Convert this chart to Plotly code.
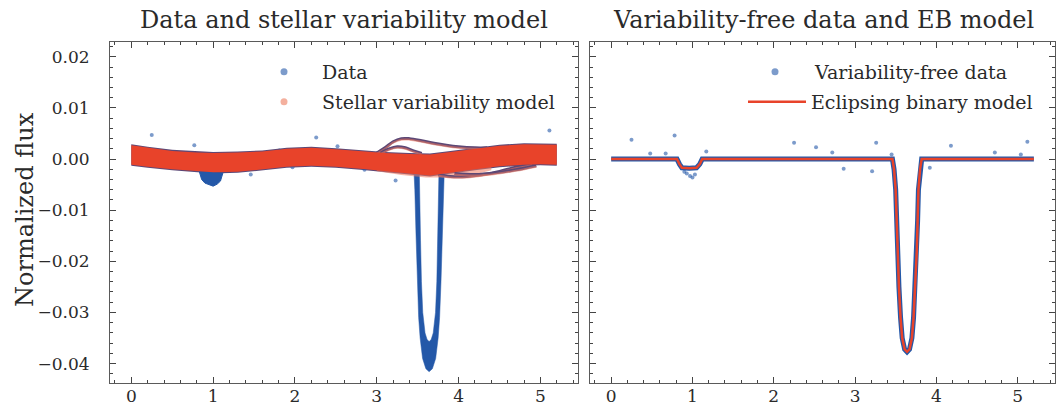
import plotly.graph_objects as go

# ---------------- phase-folded light curve (phase in days, normalized flux) ----------------
# Stellar variability model envelope (left panel)
var_phase = [0.00, 0.20, 0.50, 0.80, 1.00, 1.30, 1.60, 1.90, 2.20, 2.50, 2.80, 3.10,
             3.40, 3.65, 3.90, 4.20, 4.50, 4.80, 5.00, 5.20]
var_top = [0.0027, 0.0022, 0.0016, 0.0013, 0.0012, 0.0013, 0.0015, 0.0020, 0.0022, 0.0019,
           0.0015, 0.0012, 0.0010, 0.0009, 0.0014, 0.0020, 0.0026, 0.0029, 0.0029, 0.0028]
var_bot = [-0.0011, -0.0015, -0.0020, -0.0024, -0.0026, -0.0025, -0.0020, -0.0015, -0.0013,
           -0.0015, -0.0019, -0.0023, -0.0028, -0.0032, -0.0027, -0.0020, -0.0014, -0.0011,
           -0.0010, -0.0011]

# Sparser model realisations just below the main band
fringe_phase = [3.00, 3.30, 3.60, 3.90, 4.20, 4.40]
fringe_top = [-0.0020, -0.0025, -0.0030, -0.0025, -0.0018, -0.0015]
fringe_bot = [-0.0024, -0.0031, -0.0036, -0.0036, -0.0030, -0.0022]

# Out-of-eclipse data envelope (slightly wider than the model band)
data_top = [0.0029, 0.0024, 0.0018, 0.0015, 0.0014, 0.0015, 0.0017, 0.0022, 0.0024, 0.0021,
            0.0017, 0.0014, 0.0012, 0.0011, 0.0016, 0.0022, 0.0028, 0.0031, 0.0031, 0.0030]
data_bot = [-0.0013, -0.0017, -0.0022, -0.0026, -0.0028, -0.0027, -0.0022, -0.0017, -0.0015,
            -0.0017, -0.0021, -0.0025, -0.0030, -0.0034, -0.0029, -0.0022, -0.0016, -0.0013,
            -0.0012, -0.0013]

# Individual variability tracks that split off the main band
arc_hi_phase = [3.00, 3.10, 3.20, 3.30, 3.40, 3.55, 3.70, 3.85, 4.00, 4.20, 4.35]
arc_hi_flux = [0.0012, 0.0022, 0.0034, 0.0040, 0.0040, 0.0036, 0.0031, 0.0027, 0.0024, 0.0022, 0.0022]
arc_mid_phase = [3.05, 3.15, 3.25, 3.35, 3.45, 3.55]
arc_mid_flux = [0.0012, 0.0020, 0.0024, 0.0022, 0.0016, 0.0011]
arc_lo1_phase = [3.75, 3.90, 4.10, 4.30, 4.50, 4.70, 4.90]
arc_lo1_flux = [-0.0030, -0.0034, -0.0034, -0.0030, -0.0024, -0.0016, -0.0010]
arc_lo2_phase = [3.95, 4.20, 4.45, 4.70, 4.95]
arc_lo2_flux = [-0.0028, -0.0030, -0.0027, -0.0021, -0.0013]

# Secondary eclipse in the raw data
sec_phase = [0.83, 0.86, 0.90, 0.95, 1.00, 1.05, 1.09, 1.12]
sec_flux = [-0.0024, -0.0040, -0.0047, -0.0050, -0.0053, -0.0049, -0.0043, -0.0027]

# Primary eclipse in the raw data: outer and inner edges of the U
pri_out_phase = [3.455, 3.465, 3.48, 3.495, 3.512, 3.53, 3.56, 3.60, 3.64, 3.68, 3.72, 3.75,
                 3.768, 3.785, 3.80, 3.815, 3.825]
pri_out_flux = [-0.0025, -0.0060, -0.0150, -0.0240, -0.0310, -0.0350, -0.0390, -0.0410,
                -0.0416, -0.0410, -0.0390, -0.0350, -0.0310, -0.0240, -0.0150, -0.0060, -0.0025]
pri_in_phase = [3.52, 3.526, 3.535, 3.546, 3.562, 3.59, 3.615, 3.64, 3.665, 3.69, 3.718,
                3.734, 3.745, 3.754, 3.76]
pri_in_flux = [-0.0025, -0.0080, -0.0160, -0.0240, -0.0300, -0.0340, -0.0353, -0.0357,
               -0.0353, -0.0340, -0.0300, -0.0240, -0.0160, -0.0080, -0.0025]

# Outliers in the raw data
raw_out_phase = [0.25, 0.77, 1.46, 1.81, 1.97, 2.26, 2.52, 2.85, 3.23, 5.11]
raw_out_flux = [0.0047, 0.0027, -0.0030, 0.0017, -0.0016, 0.0042, 0.0025, -0.0021, -0.0042, 0.0056]

# Eclipsing binary model (right panel)
eb_phase = [0.00, 0.81, 0.84, 0.87, 0.96, 1.05, 1.09, 1.12, 3.46, 3.48, 3.50, 3.51, 3.52,
            3.54, 3.56, 3.58, 3.61, 3.64, 3.67, 3.70, 3.72, 3.74, 3.76, 3.77, 3.78, 3.80,
            3.82, 5.20]
eb_flux = [0.0000, 0.0000, -0.0010, -0.0017, -0.0018, -0.0017, -0.0010, 0.0000, 0.0000,
           -0.0020, -0.0060, -0.0120, -0.0180, -0.0250, -0.0310, -0.0350, -0.0372, -0.0377,
           -0.0372, -0.0350, -0.0310, -0.0250, -0.0180, -0.0120, -0.0060, -0.0020, 0.0000, 0.0000]

# Outliers in the variability-free data
clean_out_phase = [0.25, 0.78, 1.17, 0.67, 0.48, 2.25, 2.52, 2.72, 2.86, 3.21, 3.26, 4.18,
                   3.92, 5.12, 4.72, 5.04, 3.45, 0.90, 0.93, 0.97, 1.00, 1.03]
clean_out_flux = [0.0038, 0.0046, 0.0015, 0.0011, 0.0011, 0.0032, 0.0023, 0.0013, -0.0019,
                  -0.0024, 0.0032, 0.0026, -0.0017, 0.0034, 0.0013, 0.0009, 0.0009,
                  -0.0025, -0.0028, -0.0033, -0.0036, -0.0030]

# ---------------- styling ----------------
FONT = "DejaVu Serif"
TXT = "#2a2a2a"
BLUE = "#2458a8"
BLUE_LEG = "rgba(36,88,168,0.6)"
RED = "#e8432a"
SALMON = "rgba(238,120,95,0.55)"
EDGE = "rgb(92,72,118)"

fig = go.Figure()


def band(x, top, bot, color, xa, ya):
    fig.add_trace(go.Scatter(x=x + x[::-1], y=top + bot[::-1], fill="toself", mode="lines",
                             line=dict(width=0), fillcolor=color, hoverinfo="skip",
                             showlegend=False, xaxis=xa, yaxis=ya))


# Left panel: raw data underneath
band(var_phase, data_top, data_bot, EDGE, "x", "y")
fig.add_trace(go.Scatter(x=pri_out_phase + pri_in_phase[::-1], y=pri_out_flux + pri_in_flux[::-1],
                         fill="toself", mode="lines", line=dict(width=0.5, color=BLUE),
                         fillcolor=BLUE, showlegend=False, xaxis="x", yaxis="y"))
fig.add_trace(go.Scatter(x=sec_phase, y=sec_flux, fill="toself", mode="lines",
                         line=dict(width=1, color=BLUE), fillcolor=BLUE,
                         showlegend=False, xaxis="x", yaxis="y"))
fig.add_trace(go.Scatter(x=raw_out_phase, y=raw_out_flux, mode="markers",
                         marker=dict(size=4, color=BLUE_LEG), showlegend=False,
                         xaxis="x", yaxis="y"))
band(fringe_phase, fringe_top, fringe_bot, SALMON, "x", "y")
for px_, fy_ in [(arc_hi_phase, arc_hi_flux), (arc_mid_phase, arc_mid_flux),
                 (arc_lo1_phase, arc_lo1_flux), (arc_lo2_phase, arc_lo2_flux)]:
    fig.add_trace(go.Scatter(x=px_, y=fy_, mode="lines", line=dict(width=3, color=EDGE, shape="spline"),
                             showlegend=False, xaxis="x", yaxis="y"))
    fig.add_trace(go.Scatter(x=px_, y=[v - 0.0002 for v in fy_], mode="lines",
                             line=dict(width=2, color=SALMON, shape="spline"),
                             showlegend=False, xaxis="x", yaxis="y"))

# Left panel: stellar variability model band
band(var_phase, var_top, var_bot, RED, "x", "y")

# Right panel: variability-free data and EB model
fig.add_trace(go.Scatter(x=clean_out_phase, y=clean_out_flux, mode="markers",
                         marker=dict(size=4, color=BLUE_LEG), showlegend=False,
                         xaxis="x2", yaxis="y2"))
fig.add_trace(go.Scatter(x=eb_phase, y=eb_flux, mode="lines",
                         line=dict(width=5, color=BLUE), showlegend=False,
                         xaxis="x2", yaxis="y2"))
fig.add_trace(go.Scatter(x=eb_phase, y=eb_flux, mode="lines",
                         line=dict(width=2.5, color=RED), showlegend=False,
                         xaxis="x2", yaxis="y2"))

# Legend entries, one legend box per entry
fig.add_trace(go.Scatter(x=[None], y=[None], mode="markers", name="Data",
                         marker=dict(size=7, color=BLUE_LEG), legend="legend",
                         xaxis="x", yaxis="y"))
fig.add_trace(go.Scatter(x=[None], y=[None], mode="markers", name="Stellar variability model",
                         marker=dict(size=7, color="rgba(240,150,125,0.75)"), legend="legend2",
                         xaxis="x", yaxis="y"))
fig.add_trace(go.Scatter(x=[None], y=[None], mode="markers", name="Variability-free data",
                         marker=dict(size=7, color=BLUE_LEG), legend="legend3",
                         xaxis="x2", yaxis="y2"))
fig.add_trace(go.Scatter(x=[None], y=[None], mode="lines", name="Eclipsing binary model",
                         line=dict(width=2.5, color=RED), legend="legend4",
                         xaxis="x2", yaxis="y2"))

XR = [-0.26, 5.46]
YR = [-0.0438, 0.0229]
TICKC = "#444444"
axis_common = dict(showgrid=False, zeroline=False, showline=True, linecolor="#5a5a5a",
                   linewidth=1, mirror="allticks", ticks="inside", ticklen=6, tickwidth=1,
                   tickcolor=TICKC, tickfont=dict(family=FONT, size=17, color=TXT),
                   automargin=False)
minor_x = dict(dtick=0.2, ticklen=3, ticks="inside", tickcolor=TICKC)
minor_y = dict(dtick=0.002, ticklen=3, ticks="inside", tickcolor=TICKC)


def leg(xpx, ypx, width):
    return dict(x=xpx / 1062, y=1 - ypx / 409, xanchor="left", yanchor="middle",
                bgcolor="rgba(0,0,0,0)", font=dict(family=FONT, size=19, color=TXT),
                itemwidth=width, tracegroupgap=0)


fig.update_layout(
    width=1062, height=409, margin=dict(l=0, r=0, t=0, b=0),
    paper_bgcolor="white", plot_bgcolor="white",
    xaxis=dict(domain=[0.1036, 0.5443], range=XR, dtick=1, anchor="y",
               minor=minor_x, ticklabelstandoff=-2, **axis_common),
    yaxis=dict(domain=[0.0636, 0.8973], range=YR, dtick=0.01, tickformat=".2f",
               anchor="x", minor=minor_y, ticklabelstandoff=16, **axis_common),
    xaxis2=dict(domain=[0.5556, 0.9934], range=XR, dtick=1, anchor="y2",
                minor=minor_x, ticklabelstandoff=-2, **axis_common),
    yaxis2=dict(domain=[0.0636, 0.8973], range=YR, dtick=0.01, anchor="x2", matches="y",
                showticklabels=False, minor=minor_y, **axis_common),
    legend=leg(246, 72, 66),
    legend2=leg(246, 102, 66),
    legend3=leg(735, 72, 70),
    legend4=leg(743, 102, 58),
    annotations=[
        dict(text="Data and stellar variability model", x=344 / 1062, y=1 - 20 / 409,
             xref="paper", yref="paper", xanchor="center", yanchor="middle", showarrow=False,
             font=dict(family=FONT, size=24, color=TXT)),
        dict(text="Variability-free data and EB model", x=823 / 1062, y=1 - 20 / 409,
             xref="paper", yref="paper", xanchor="center", yanchor="middle", showarrow=False,
             font=dict(family=FONT, size=24, color=TXT)),
        dict(text="Normalized flux", x=25 / 1062, y=1 - 210 / 409, xref="paper", yref="paper",
             xanchor="center", yanchor="middle", showarrow=False, textangle=-90,
             font=dict(family=FONT, size=24, color=TXT)),
    ],
)

fig.write_html("out.html")
